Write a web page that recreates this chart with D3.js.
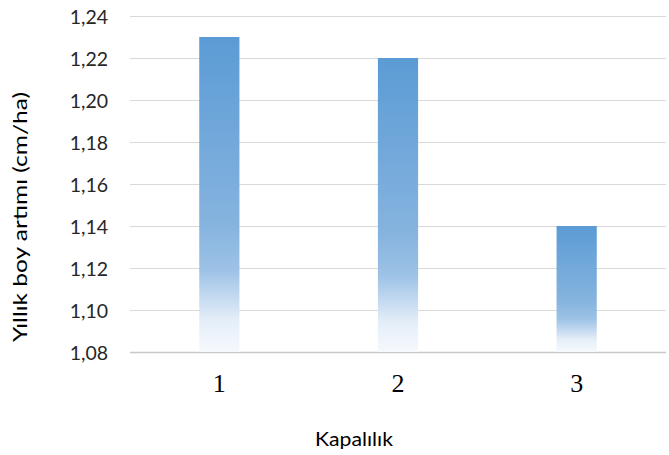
<!DOCTYPE html>
<html><head><meta charset="utf-8">
<script src="https://cdn.jsdelivr.net/npm/d3@7"></script>
<style>html,body{margin:0;padding:0;background:#fff;}</style>
</head><body>
<svg id="c" width="669" height="455"></svg>
<script>
const categories = ["1", "2", "3"];
const values = [1.23, 1.22, 1.14];
const yTicks = [1.08, 1.10, 1.12, 1.14, 1.16, 1.18, 1.20, 1.22, 1.24];
const xTitle = "Kapalılık";
const yTitle = "Yıllık boy artımı (cm/ha)";

const svg = d3.select("#c");
const m = {left: 130, right: 3, top: 16, bottom: 103};
const W = 669, H = 455;
const x = d3.scaleBand().domain(categories).range([m.left, W - m.right]).paddingInner(0.775).paddingOuter(0.3875);
const y = d3.scaleLinear().domain([1.08, 1.24]).range([H - m.bottom, m.top]);

const defs = svg.append("defs");
const g = defs.append("linearGradient").attr("id", "grad").attr("x1", 0).attr("y1", 0).attr("x2", 0).attr("y2", 1);
[[0, "#5b9bd5"], [0.6, "#86b4df"], [0.74, "#9dc2e6"], [0.83, "#c6dbf1"], [0.9, "#e4eef8"], [1, "#f6f9fd"]]
  .forEach(([o, c]) => g.append("stop").attr("offset", o).attr("stop-color", c));

// gridlines
svg.append("g").selectAll("line").data(yTicks).join("line")
  .attr("x1", m.left).attr("x2", W - m.right)
  .attr("y1", d => Math.round(y(d)) + 0.5).attr("y2", d => Math.round(y(d)) + 0.5)
  .attr("stroke", d => d === 1.08 ? "#c8c8c8" : "#d9d9d9").attr("stroke-width", d => d === 1.08 ? 1.5 : 1);

// y axis labels
const yAxis = d3.axisLeft(y).tickValues(yTicks).tickSize(0).tickPadding(0)
  .tickFormat(d => d3.format(".2f")(d).replace(".", ","));
const ya = svg.append("g").attr("transform", `translate(${108},0)`).call(yAxis);
ya.select(".domain").remove();
ya.selectAll("text").attr("font-family", "Lato, sans-serif").attr("font-size", 19.5).attr("fill", "#262626").attr("dy", "0.36em");

// bars
svg.append("g").selectAll("rect").data(values).join("rect")
  .attr("x", (d, i) => x(categories[i])).attr("width", x.bandwidth())
  .attr("y", d => y(d)).attr("height", d => y(1.08) - y(d))
  .attr("fill", "url(#grad)");

// x axis labels
const xAxis = d3.axisBottom(x).tickSize(0).tickPadding(0);
const xa = svg.append("g").attr("transform", `translate(0,${392})`).call(xAxis);
xa.select(".domain").remove();
xa.selectAll("text").attr("font-family", "Liberation Serif, serif").attr("font-size", 26).attr("fill", "#000").attr("dy", 0);

// titles
svg.append("text").attr("x", 354).attr("y", 446).attr("text-anchor", "middle")
  .attr("font-family", "Lato, sans-serif").attr("font-size", 19.5).attr("fill", "#000")
  .attr("textLength", 78).attr("lengthAdjust", "spacingAndGlyphs").text(xTitle);
svg.append("text").attr("transform", `translate(27,${217}) rotate(-90)`).attr("text-anchor", "middle")
  .attr("font-family", "Lato, sans-serif").attr("font-size", 19.5).attr("fill", "#000")
  .attr("textLength", 250).attr("lengthAdjust", "spacingAndGlyphs").text(yTitle);
</script>
</body></html>
